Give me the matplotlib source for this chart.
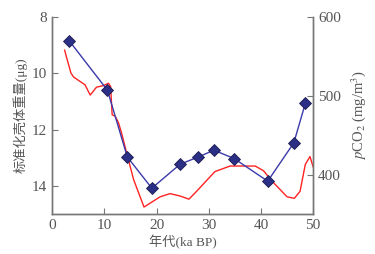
import matplotlib.pyplot as plt
import numpy as np

# shell weight (left axis, inverted)
age_w = [3.3, 10.6, 14.4, 19.1, 24.5, 28.0, 31.0, 34.9, 41.3, 46.3, 48.5]
weight = [8.85, 10.6, 12.97, 14.08, 13.23, 12.97, 12.73, 13.03, 13.83, 12.47, 11.07]

# pCO2 (right axis)
age_c = [2.4, 2.8, 3.6, 4.1, 6.3, 7.3, 8.5, 9.8, 10.8, 11.2, 11.5, 12.1, 12.7, 13.3,
         14.3, 15.6, 17.6, 18.8, 20.7, 22.6, 24.5, 26.2, 27.4, 31.2, 34.1, 38.9,
         40.5, 42.1, 45.0, 46.4, 47.5, 48.5, 49.4, 50.0]
pco2 = [558, 548, 529, 524, 514, 501, 511, 513, 516, 512, 476, 474, 466, 453,
        427, 394, 359, 364, 372, 376, 373, 369, 377, 404, 411, 411,
        405, 392, 372, 370, 379, 413, 423, 410]

plt.rcParams['font.family'] = ['Liberation Serif', 'Noto Sans CJK SC']
plt.rcParams['mathtext.fontset'] = 'stix'

grey = '#555555'

fig = plt.figure(figsize=(3.75, 2.54), dpi=100)
ax = fig.add_axes([0.139, 0.157, 0.696, 0.776])
ax2 = ax.twinx()

ax2.plot(age_c, pco2, color='#ff2222', lw=1.0, zorder=1)
ax.plot(age_w, weight, color='#3a3aaa', lw=1.0, marker='D', markersize=6.5,
        markerfacecolor='#2b2f86', markeredgecolor='#1a1a50', markeredgewidth=0.6,
        zorder=3)
ax.set_zorder(ax2.get_zorder() + 1)
ax.patch.set_visible(False)

ax.set_xlim(0, 50)
ax.set_ylim(15, 8)
ax2.set_ylim(350, 600)
ax.set_xticks([0, 10, 20, 30, 40, 50])
ax.set_yticks([8, 10, 12, 14])
ax2.set_yticks([400, 500, 600])

for a in (ax, ax2):
    a.spines['top'].set_visible(False)
    for s in a.spines.values():
        s.set_color('#777777')
        s.set_linewidth(1.0)
    a.tick_params(direction='in', length=4, width=0.8, colors='#777777',
                  labelcolor=grey, labelsize=11)

ax.set_xlabel('年代(ka BP)', color=grey, fontsize=9.5, labelpad=2)
ax.set_ylabel('标准化壳体重量(μg)', color=grey, fontsize=9.5, labelpad=3)
ax2.set_ylabel(r'$p$CO$_2$ (mg/m$^3$)', color=grey, fontsize=10.5, labelpad=6)

fig.savefig('out.png', dpi=100)
